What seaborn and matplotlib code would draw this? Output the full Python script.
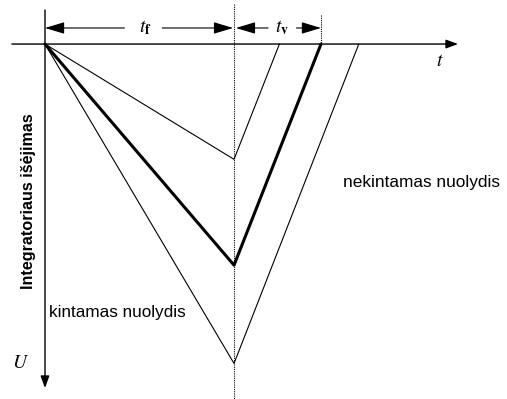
import matplotlib
matplotlib.use("Agg")
import matplotlib.pyplot as plt
import seaborn as sns
import pandas as pd

sns.set_theme(style="white")
plt.rcParams["font.family"] = ["Liberation Sans", "DejaVu Sans"]
plt.rcParams["mathtext.fontset"] = "stix"
plt.rcParams["text.color"] = "black"

# Dual-slope integrator output: run-up for a fixed time t_f, then run-down
# with a constant slope until the output returns to zero.
t_fixed = 1.0
peak_U = [0.61, 1.17, 1.69]        # integrator output at end of t_f
t_end = [1.24, 1.46, 1.66]         # zero crossing of the run-down
line_widths = [0.8, 2.2, 0.8]
curve_names = ["small", "nominal", "large"]

rows = []
for name, u, te in zip(curve_names, peak_U, t_end):
    rows += [(name, 0.0, 0.0), (name, t_fixed, u), (name, te, 0.0)]
df = pd.DataFrame(rows, columns=["curve", "t", "U"])

fig = plt.figure(figsize=(5.07, 3.99), dpi=100)
ax = fig.add_axes([0, 0, 1, 1])
ax.set_xlim(-0.238, 2.444)
ax.set_ylim(1.878, -0.233)
ax.axis("off")

for name, lw in zip(curve_names, line_widths):
    sns.lineplot(data=df[df["curve"] == name], x="t", y="U", sort=False,
                 color="black", linewidth=lw, ax=ax, legend=False)

arrow = dict(arrowstyle="-|>,head_length=0.6,head_width=0.22", color="black",
             lw=1.0, shrinkA=0, shrinkB=0)
# time axis and voltage axis
ax.annotate("", xy=(2.185, 0), xytext=(-0.175, 0), arrowprops=arrow)
ax.annotate("", xy=(0, 1.82), xytext=(0, -0.18), arrowprops=arrow)

# dotted markers at the end of t_f and of the nominal t_v
ax.plot([t_fixed, t_fixed], [-0.21, 1.878], color="black", lw=0.8, ls=(0, (1, 1)))
ax.plot([t_end[1], t_end[1]], [-0.155, 0], color="black", lw=0.8, ls=(0, (1, 1)))

# dimension arrows for t_f and t_v
y_dim = -0.085
dim = dict(arrowstyle="-|>,head_length=1.0,head_width=0.3", color="black",
           lw=0.8, shrinkA=0, shrinkB=0)
ax.annotate("", xy=(0, y_dim), xytext=(0.42, y_dim), arrowprops=dim)
ax.annotate("", xy=(t_fixed - 0.005, y_dim), xytext=(0.62, y_dim), arrowprops=dim)
ax.text(0.53, y_dim, r"$t_{\mathbf{f}}$", fontsize=14, ha="center", va="center")
ax.annotate("", xy=(t_fixed + 0.01, y_dim), xytext=(1.18, y_dim), arrowprops=dim)
ax.annotate("", xy=(t_end[1], y_dim), xytext=(1.33, y_dim), arrowprops=dim)
ax.text(1.255, y_dim, r"$t_{\mathbf{v}}$", fontsize=14, ha="center", va="center")

# axis names
ax.text(2.09, 0.095, r"$t$", fontsize=14, ha="center", va="center")
ax.text(-0.13, 1.69, r"$U$", fontsize=14, ha="center", va="center")
ax.text(-0.088, 0.83, "Integratoriaus išėjimas", rotation=90, fontsize=11.6,
        fontweight="bold", ha="center", va="center")

ax.text(0.02, 1.42, "kintamas nuolydis", fontsize=12.3, ha="left", va="center")
ax.text(1.575, 0.73, "nekintamas nuolydis", fontsize=12.4, ha="left", va="center")

fig.savefig("out.png", dpi=100, facecolor="white")
